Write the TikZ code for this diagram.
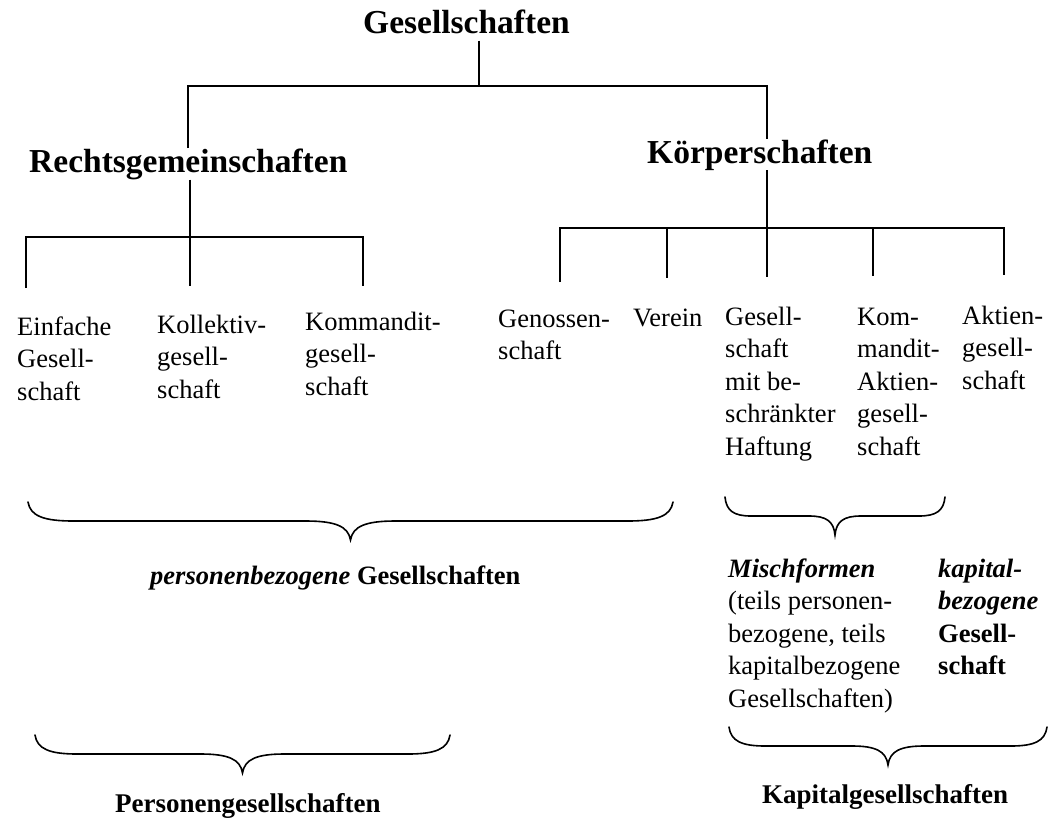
\documentclass[tikz,border=0pt]{standalone}
\usepackage{fontspec}
\setmainfont{Liberation Serif}
\newcommand\ml[1]{\begin{tabular}[t]{@{}l@{}}#1\end{tabular}}
\newcommand\hbrace[4]{%
 \draw[bracestyle] (#1,#3) .. controls ({#1+0.05*#4},{#3+14}) and ({#1+0.35*#4},{#3+19}) .. ({#1+#4},{#3+19})
 -- ({(#1+#2)/2-#4},{#3+19})
 .. controls ({(#1+#2)/2-0.35*#4},{#3+19}) and ({(#1+#2)/2-0.05*#4},{#3+24}) .. ({(#1+#2)/2},{#3+38})
 .. controls ({(#1+#2)/2+0.05*#4},{#3+24}) and ({(#1+#2)/2+0.35*#4},{#3+19}) .. ({(#1+#2)/2+#4},{#3+19})
 -- ({#2-#4},{#3+19})
 .. controls ({#2-0.35*#4},{#3+19}) and ({#2-0.05*#4},{#3+14}) .. (#2,#3);}
\begin{document}
\begin{tikzpicture}[x=1pt,y=-1pt,
  every node/.style={inner sep=0pt,anchor=base west},
  head/.style={font=\fontsize{33.5}{40}\selectfont\bfseries},
  leaf/.style={font=\fontsize{26.5}{32.5}\selectfont},
  sub/.style={font=\fontsize{27}{32.5}\selectfont\bfseries},
  tree/.style={line width=1.6pt},
  bracestyle/.style={line width=1.6pt,line cap=round}]
\useasboundingbox (0,0) rectangle (1050,819);
% headings
\node[head] (ges) at (363,33) {Gesellschaften};
\node[head] (rg) at (29,172) {Rechtsgemeinschaften};
\node[head] (ks) at (647,163) {Körperschaften};
% leaves
\node[leaf] (einf) at (17,335) {\ml{Einfache\\Gesell-\\schaft}};
\node[leaf] (koll) at (157,333) {\ml{Kollektiv-\\gesell-\\schaft}};
\node[leaf] (komm) at (305,330) {\ml{Kommandit-\\gesell-\\schaft}};
\node[leaf] (gen) at (498,327) {\ml{Genossen-\\schaft}};
\node[leaf] (ver) at (633,326) {Verein};
\node[leaf] (gmbh) at (725,325) {\ml{Gesell-\\schaft\\mit be-\\schränkter\\Haftung}};
\node[leaf] (kgaa) at (857,325) {\ml{Kom-\\mandit-\\Aktien-\\gesell-\\schaft}};
\node[leaf] (ag) at (962,324) {\ml{Aktien-\\gesell-\\schaft}};
% groups
\node[leaf] (pbg) at (150,584) {\textbf{\textit{personenbezogene}} \textbf{Gesellschaften}};
\node[leaf] (misch) at (728,577) {\ml{\textbf{\textit{Mischformen}}\\(teils personen-\\bezogene, teils\\kapitalbezogene\\Gesellschaften)}};
\node[leaf] (kap) at (938,577) {\ml{\textbf{\textit{kapital-}}\\\textbf{\textit{bezogene}}\\\textbf{Gesell-}\\\textbf{schaft}}};
\node[sub] (pg) at (115,812) {Personengesellschaften};
\node[sub] (kg) at (762,803) {Kapitalgesellschaften};
% tree coordinates
\coordinate (t0) at (479,86);
\coordinate (tL) at (188,86);
\coordinate (tR) at (767,86);
\coordinate (lb1) at (26,237);
\coordinate (lb2) at (190,237);
\coordinate (lb3) at (363,237);
\coordinate (le1) at (26,288);
\coordinate (le2) at (190,286);
\coordinate (le3) at (363,286);
\coordinate (rb1) at (560,228);
\coordinate (rb2) at (667,228);
\coordinate (rb3) at (767,228);
\coordinate (rb4) at (873,228);
\coordinate (rb5) at (1004,228);
\coordinate (re1) at (560,282);
\coordinate (re2) at (667,278);
\coordinate (re3) at (767,277);
\coordinate (re4) at (873,276);
\coordinate (re5) at (1004,275);
% tree lines
\draw[tree,shorten <=7pt] (ges.south -| t0) -- (t0);
\draw[tree] (rg.north -| tL) -- (tL) -- (tR) -- (ks.north -| tR);
\draw[tree] (rg.south -| le2) -- (le2);
\draw[tree] (le1) -- (lb1) -- (lb3) -- (le3);
\draw[tree] (ks.south -| re3) -- (re3);
\draw[tree] (re1) -- (rb1) -- (rb5) -- (re5);
\draw[tree] (rb2) -- (re2);
\draw[tree] (rb4) -- (re4);
% braces
\hbrace{28}{673}{502}{45}
\hbrace{35}{450}{735}{42}
\hbrace{725}{945}{497}{26}
\hbrace{729}{1047}{727}{36}
\end{tikzpicture}
\end{document}
